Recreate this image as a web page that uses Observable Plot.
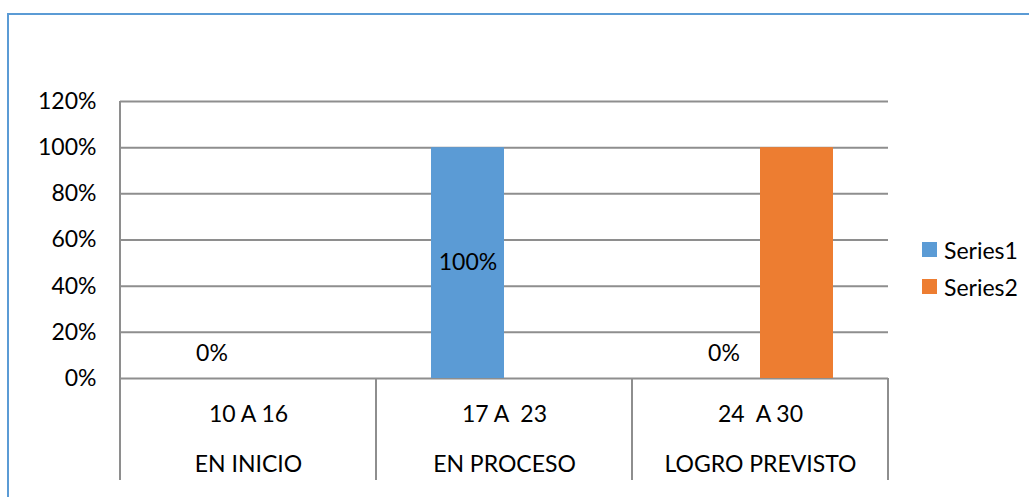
<!DOCTYPE html>
<html>
<head>
<meta charset="utf-8">
<script src="https://cdn.jsdelivr.net/npm/d3@7"></script>
<script src="https://cdn.jsdelivr.net/npm/@observablehq/plot@0.6"></script>
<style>
  body { margin: 0; background: #fff; }
  #wrap { position: relative; width: 1029px; height: 497px; font-family: Lato, sans-serif; overflow: hidden; }
  #wrap svg { position: absolute; left: 0; top: 0; }
  #wrap svg text { white-space: pre; }
  #border { position: absolute; left: 7px; top: 13px; right: -4px; bottom: -4px;
            border-left: 2px solid #5B9BD5; border-top: 2px solid #5B9BD5; pointer-events: none; }
  #legend { position: absolute; left: 922px; top: 231px; font-size: 23px; color: #000; }
  #legend .row { display: flex; align-items: center; height: 37px; }
  #legend .sw { width: 15px; height: 15px; margin-right: 7px; }
</style>
</head>
<body>
<div id="wrap"></div>
<script>
// ---- data ----
const categories = ["EN INICIO", "EN PROCESO", "LOGRO PREVISTO"];
const rangeLabels = ["10 A 16", "17 A  23", "24  A 30"];
const seriesNames = ["Series1", "Series2"];
const series1 = [0, 1, 0];
const series2 = [null, null, 1];
const series1Labels = ["0%", "100%", "0%"];
const yTicks = [0, 0.2, 0.4, 0.6, 0.8, 1.0, 1.2];
const yTickLabels = ["0%", "20%", "40%", "60%", "80%", "100%", "120%"];
const colors = ["#5B9BD5", "#ED7D31"];

// ---- tables built from the arrays ----
const rows = [];
categories.forEach((c, i) => {
  if (series1[i] != null) rows.push({category: c, series: seriesNames[0], value: series1[i], label: series1Labels[i]});
  if (series2[i] != null) rows.push({category: c, series: seriesNames[1], value: series2[i], label: null});
});
const labelRows = rows.filter(d => d.label != null);

const gridColor = "#8E8E8E";
const W = 1029, H = 497, tableBottom = 17;

const plot = Plot.plot({
  width: W,
  height: H,
  marginLeft: 119,
  marginRight: 141,
  marginTop: 101,
  marginBottom: 119,
  style: {fontFamily: "Lato, sans-serif", fontSize: "23px", color: "#000", background: "transparent"},
  fx: {domain: categories, padding: 0},
  x: {domain: seriesNames, paddingInner: 0, paddingOuter: 0.732, axis: null},
  y: {domain: [0, 1.2]},
  color: {domain: seriesNames, range: colors},
  marks: [
    Plot.ruleY(yTicks, {stroke: gridColor, strokeWidth: 2}),
    Plot.barY(rows, {fx: "category", x: "series", y: "value", fill: "series"}),
    Plot.axisY(yTicks, {tickSize: 0, tickPadding: 24, label: null,
      tickFormat: d => yTickLabels[yTicks.indexOf(d)], fontSize: 23}),
    Plot.axisFx({anchor: "bottom", tickSize: 0, tickPadding: 27, label: null,
      tickFormat: d => rangeLabels[categories.indexOf(d)], fontSize: 23}),
    Plot.axisFx({anchor: "bottom", tickSize: 0, tickPadding: 77, label: null,
      tickFormat: d => d, fontSize: 23}),
    Plot.text(labelRows.filter(d => d.value > 0), {fx: "category", x: "series", y: d => d.value / 2,
      text: "label", fill: "#000", fontSize: 23}),
    Plot.text(labelRows.filter(d => d.value === 0), {fx: "category", x: "series", y: "value",
      dy: -25, text: "label", fill: "#000", fontSize: 23})
  ]
});

const wrap = document.getElementById("wrap");
wrap.appendChild(plot);

// category table dividers, placed with the plot's own fx / y scales
const fx = plot.scale("fx");
const ys = plot.scale("y");
const yTop = ys.apply(yTicks[yTicks.length - 1]);
const yBase = ys.apply(0);
const yEnd = H - tableBottom;
const divLines = [];
categories.forEach((c, i) => {
  divLines.push({x: fx.apply(c), y1: i === 0 ? yTop : yBase});
});
divLines.push({x: fx.apply(categories[categories.length - 1]) + fx.bandwidth, y1: yBase});
const g = d3.select(plot).append("g").attr("stroke", gridColor).attr("stroke-width", 2);
divLines.forEach(d => {
  g.append("line").attr("x1", d.x).attr("x2", d.x).attr("y1", d.y1).attr("y2", yEnd);
});

// legend
const colorScale = plot.scale("color");
const legend = d3.select(wrap).append("div").attr("id", "legend");
colorScale.domain.forEach((name, i) => {
  const row = legend.append("div").attr("class", "row");
  row.append("div").attr("class", "sw").style("background", colorScale.range[i]);
  row.append("span").text(name);
});

d3.select(wrap).append("div").attr("id", "border");
</script>
</body>
</html>
